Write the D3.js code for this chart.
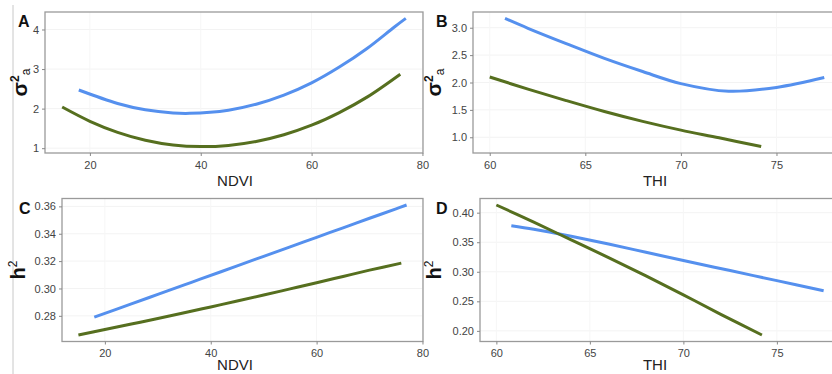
<!DOCTYPE html>
<html>
<head>
<meta charset="utf-8">
<script src="https://cdn.jsdelivr.net/npm/d3@7"></script>
<style>
  body { margin: 0; background: #fff; }
  svg { display: block; font-family: 'Liberation Sans', Arial, sans-serif; }
</style>
</head>
<body>
<script>
// x values
const ndviBlue = [18, 25, 30, 35, 38, 45, 50, 55, 60, 65, 70, 75, 77];
const ndviGreen = [15, 20, 25, 30, 35, 40, 45, 50, 55, 60, 65, 70, 76];
const thiBlue = [60.8, 62, 64, 66, 68, 70, 72.5, 75, 77.5];
const thiGreen = [60, 62, 64, 66, 68, 70, 72, 74.2];

// A: sigma2a vs NDVI
const sigmaNdviBlue = [2.47, 2.13, 1.97, 1.89, 1.88, 1.96, 2.11, 2.34, 2.65, 3.05, 3.52, 4.07, 4.28];
const sigmaNdviGreen = [2.04, 1.68, 1.40, 1.20, 1.08, 1.04, 1.07, 1.17, 1.34, 1.58, 1.90, 2.29, 2.87];
// B: sigma2a vs THI
const sigmaThiBlue = [3.17, 2.99, 2.71, 2.44, 2.20, 1.98, 1.84, 1.91, 2.09];
const sigmaThiGreen = [2.10, 1.88, 1.67, 1.47, 1.29, 1.13, 0.99, 0.83];
// C: h2 vs NDVI
const h2NdviBlue = [0.2790, 0.2887, 0.2957, 0.3026, 0.3068, 0.3165, 0.3235, 0.3304, 0.3374, 0.3443, 0.3513, 0.3582, 0.3610];
const h2NdviGreen = [0.2660, 0.2700, 0.2740, 0.2780, 0.2822, 0.2865, 0.2908, 0.2952, 0.2997, 0.3042, 0.3088, 0.3134, 0.3185];
// D: h2 vs THI
const h2ThiBlue = [0.378, 0.372, 0.360, 0.347, 0.333, 0.319, 0.302, 0.285, 0.268];
const h2ThiGreen = [0.413, 0.384, 0.354, 0.324, 0.293, 0.261, 0.228, 0.193];

// tick labels
const ndviTicks = [20, 40, 60, 80];
const thiTicks = [60, 65, 70, 75];
const sigmaNdviTicks = [1, 2, 3, 4];
const sigmaThiTicks = [1.0, 1.5, 2.0, 2.5, 3.0];
const h2NdviTicks = [0.28, 0.30, 0.32, 0.34, 0.36];
const h2ThiTicks = [0.20, 0.25, 0.30, 0.35, 0.40];

const blue = '#5590ee';
const green = '#566f1f';

const svg = d3.select('body').append('svg').attr('width', 832).attr('height', 374);

// edge of the cropped page on the left
svg.append('line').attr('x1', 13).attr('x2', 13).attr('y1', 5).attr('y2', 374)
  .attr('stroke', '#c8c8c8').attr('stroke-width', 1);

// ggplot style 5% expansion of the data range
function expand(values) {
  const [lo, hi] = d3.extent(values);
  const pad = (hi - lo) * 0.05;
  return [lo - pad, hi + pad];
}

function drawPanel(p) {
  const g = svg.append('g');
  const x = d3.scaleLinear().domain(expand(p.blueX.concat(p.greenX))).range([p.left, p.right]);
  const y = d3.scaleLinear().domain(expand(p.blueY.concat(p.greenY))).range([p.bottom, p.top]);

  // faint grid
  g.selectAll('.gy').data(p.yTicks).join('line')
    .attr('x1', p.left).attr('x2', p.right)
    .attr('y1', (d) => y(d)).attr('y2', (d) => y(d))
    .attr('stroke', '#f3f3f3');
  g.selectAll('.gx').data(p.xTicks).join('line')
    .attr('x1', (d) => x(d)).attr('x2', (d) => x(d))
    .attr('y1', p.top).attr('y2', p.bottom)
    .attr('stroke', '#f6f6f6');

  const line = d3.line().curve(d3.curveCatmullRom.alpha(0.5)).x((d) => x(d[0])).y((d) => y(d[1]));
  g.append('path').datum(d3.zip(p.blueX, p.blueY)).attr('d', line)
    .attr('fill', 'none').attr('stroke', blue).attr('stroke-width', 3);
  g.append('path').datum(d3.zip(p.greenX, p.greenY)).attr('d', line)
    .attr('fill', 'none').attr('stroke', green).attr('stroke-width', 3);

  g.append('rect').attr('x', p.left).attr('y', p.top)
    .attr('width', p.right - p.left).attr('height', p.bottom - p.top)
    .attr('fill', 'none').attr('stroke', '#9a9a9a').attr('stroke-width', 1.3);

  const xAxis = d3.axisBottom(x).tickValues(p.xTicks).tickSize(3).tickPadding(5).tickFormat(d3.format('d'));
  const yAxis = d3.axisLeft(y).tickValues(p.yTicks).tickSize(3).tickPadding(3).tickFormat(p.yFormat);

  const xg = g.append('g').attr('transform', `translate(0,${p.bottom})`).call(xAxis);
  const yg = g.append('g').attr('transform', `translate(${p.left},0)`).call(yAxis);
  [xg, yg].forEach((a) => {
    a.select('.domain').remove();
    a.selectAll('.tick line').attr('stroke', '#888');
    a.selectAll('.tick text').attr('fill', '#444').attr('font-size', 11)
      .attr('font-family', 'Liberation Sans, Arial, sans-serif');
  });

  g.append('text').attr('x', p.titleX).attr('y', p.bottom + p.titleGap)
    .attr('text-anchor', 'middle').attr('font-size', 15).attr('fill', '#222').text(p.xTitle);

  g.append('text').attr('x', p.letterX).attr('y', p.top + 15)
    .attr('font-size', 16).attr('font-weight', 'bold').attr('fill', '#111').text(p.letter);

  const yt = g.append('text')
    .attr('transform', `translate(${p.yTitleX},${(p.top + p.bottom) / 2}) rotate(-90)`)
    .attr('text-anchor', 'middle').attr('font-weight', 'bold').attr('fill', '#111');
  if (p.sigma) {
    yt.append('tspan').attr('font-size', 21).text('σ');
    yt.append('tspan').attr('font-size', 12).attr('dy', -8).text('2');
    yt.append('tspan').attr('font-size', 12).attr('font-weight', 'normal').attr('dy', 11).text('a');
  } else {
    yt.append('tspan').attr('font-size', 20).text('h');
    yt.append('tspan').attr('font-size', 12).attr('font-weight', 'normal').attr('dy', -8).text('2');
  }
}

const fmt2 = d3.format('.2f');
const fmt1 = d3.format('.1f');

drawPanel({ letter: 'A', letterX: 18, left: 45, right: 423, top: 12, bottom: 153,
  blueX: ndviBlue, blueY: sigmaNdviBlue, greenX: ndviGreen, greenY: sigmaNdviGreen,
  xTicks: ndviTicks, yTicks: sigmaNdviTicks, yFormat: d3.format('d'),
  xTitle: 'NDVI', titleX: 235, titleGap: 33, yTitleX: 27, sigma: true });

drawPanel({ letter: 'B', letterX: 436, left: 473, right: 841, top: 12, bottom: 153,
  blueX: thiBlue, blueY: sigmaThiBlue, greenX: thiGreen, greenY: sigmaThiGreen,
  xTicks: thiTicks, yTicks: sigmaThiTicks, yFormat: fmt1,
  xTitle: 'THI', titleX: 655, titleGap: 33, yTitleX: 441, sigma: true });

drawPanel({ letter: 'C', letterX: 19, left: 62, right: 423, top: 198.5, bottom: 341.5,
  blueX: ndviBlue, blueY: h2NdviBlue, greenX: ndviGreen, greenY: h2NdviGreen,
  xTicks: ndviTicks, yTicks: h2NdviTicks, yFormat: fmt2,
  xTitle: 'NDVI', titleX: 235, titleGap: 28.5, yTitleX: 25, sigma: false });

drawPanel({ letter: 'D', letterX: 436, left: 480, right: 840, top: 198.5, bottom: 341.5,
  blueX: thiBlue, blueY: h2ThiBlue, greenX: thiGreen, greenY: h2ThiGreen,
  xTicks: thiTicks, yTicks: h2ThiTicks, yFormat: fmt2,
  xTitle: 'THI', titleX: 655, titleGap: 28.5, yTitleX: 441, sigma: false });
</script>
</body>
</html>
